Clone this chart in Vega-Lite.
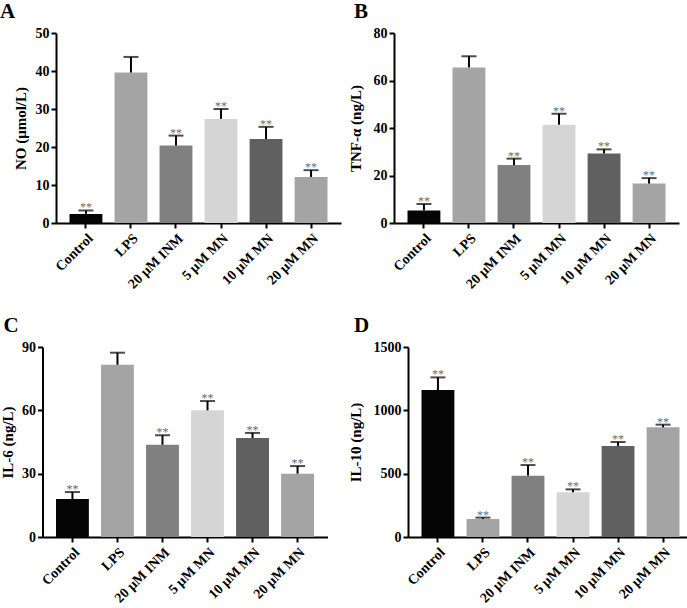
{
  "$schema": "https://vega.github.io/schema/vega-lite/v6.json",
  "padding": {"left": 0, "top": 0, "right": 0, "bottom": 0},
  "background": "white",
  "config": {
    "view": {"stroke": null},
    "font": "Liberation Serif",
    "axis": {
      "labelFont": "Liberation Serif", "labelFontWeight": "bold", "labelFontSize": 14, "labelColor": "black",
      "titleFont": "Liberation Serif", "titleFontWeight": "bold", "titleFontSize": 15, "titleColor": "black",
      "domainColor": "black", "domainWidth": 2, "tickColor": "black", "tickWidth": 2, "tickSize": 5,
      "labelPadding": 2, "grid": false
    },
    "axisX": {"labelAngle": -45, "title": null, "labelPadding": 3},
    "title": {"font": "Liberation Serif", "fontWeight": "bold", "fontSize": 21, "color": "black", "anchor": "start", "frame": "group", "offset": 4.5}
  },
  "data": {"values": [
    {"panel": "A", "group": "Control", "value": 2.4, "upper": 3.3},
    {"panel": "A", "group": "LPS", "value": 39.6, "upper": 43.7},
    {"panel": "A", "group": "20 μM INM", "value": 20.4, "upper": 23.0},
    {"panel": "A", "group": "5 μM MN", "value": 27.4, "upper": 30.0},
    {"panel": "A", "group": "10 μM MN", "value": 22.1, "upper": 25.3},
    {"panel": "A", "group": "20 μM MN", "value": 12.1, "upper": 13.9},
    {"panel": "B", "group": "Control", "value": 5.3, "upper": 8.0},
    {"panel": "B", "group": "LPS", "value": 65.5, "upper": 70.2},
    {"panel": "B", "group": "20 μM INM", "value": 24.4, "upper": 27.1},
    {"panel": "B", "group": "5 μM MN", "value": 41.4, "upper": 46.0},
    {"panel": "B", "group": "10 μM MN", "value": 29.3, "upper": 31.0},
    {"panel": "B", "group": "20 μM MN", "value": 16.6, "upper": 18.9},
    {"panel": "C", "group": "Control", "value": 18.0, "upper": 21.3},
    {"panel": "C", "group": "LPS", "value": 81.6, "upper": 87.3},
    {"panel": "C", "group": "20 μM INM", "value": 43.7, "upper": 48.2},
    {"panel": "C", "group": "5 μM MN", "value": 60.0, "upper": 64.4},
    {"panel": "C", "group": "10 μM MN", "value": 46.9, "upper": 49.3},
    {"panel": "C", "group": "20 μM MN", "value": 30.0, "upper": 33.6},
    {"panel": "D", "group": "Control", "value": 1160, "upper": 1260},
    {"panel": "D", "group": "LPS", "value": 142, "upper": 153},
    {"panel": "D", "group": "20 μM INM", "value": 484, "upper": 568},
    {"panel": "D", "group": "5 μM MN", "value": 353, "upper": 376},
    {"panel": "D", "group": "10 μM MN", "value": 718, "upper": 750},
    {"panel": "D", "group": "20 μM MN", "value": 866, "upper": 887}
  ]},
  "spacing": 22,
  "vconcat": [
    {
      "spacing": 7,
      "hconcat": [
        {
          "title": {"text": "\u00a0\u00a0\u00a0A", "dx": -56},
          "width": 285, "height": 190,
          "transform": [{"filter": "datum.panel === 'A'"}],
          "encoding": {
            "x": {"field": "group", "type": "nominal", "sort": ["Control", "LPS", "20 μM INM", "5 μM MN", "10 μM MN", "20 μM MN"], "scale": {"paddingInner": 0.27, "paddingOuter": 0.3}},
            "y": {"field": "value", "type": "quantitative", "title": "NO (μmol/L)", "scale": {"domain": [0, 50], "nice": false}, "axis": {"values": [0, 10, 20, 30, 40, 50], "format": "d", "titlePadding": 5, "titleX": -28, "titleY": 95}}
          },
          "layer": [
            {"mark": {"type": "bar"}, "encoding": {
              "color": {"field": "group", "type": "nominal", "legend": null, "scale": {"domain": ["Control", "LPS", "20 μM INM", "5 μM MN", "10 μM MN", "20 μM MN"], "range": ["#050505", "#a4a4a4", "#808080", "#d5d5d5", "#606060", "#a4a4a4"]}}}},
            {"mark": {"type": "rule", "strokeWidth": 2, "color": "black"}, "encoding": {"y2": {"field": "upper"}}},
            {"mark": {"type": "tick", "thickness": 2, "size": 15, "color": "black"}, "encoding": {"y": {"field": "upper", "type": "quantitative", "title": "NO (μmol/L)", "axis": {"values": [0, 10, 20, 30, 40, 50], "format": "d", "titlePadding": 5, "titleX": -28, "titleY": 95}}}},
            {"transform": [{"filter": "datum.group !== 'LPS'"}], "mark": {"type": "text", "text": "**", "fontSize": 12, "fill": "#6a6a6a", "baseline": "alphabetic", "dy": 1}, "encoding": {"y": {"field": "upper", "type": "quantitative", "title": "NO (μmol/L)", "axis": {"values": [0, 10, 20, 30, 40, 50], "format": "d", "titlePadding": 5, "titleX": -28, "titleY": 95}}}}
          ]
        },
        {
          "title": {"text": "B", "dx": -40},
          "width": 285, "height": 190,
          "transform": [{"filter": "datum.panel === 'B'"}],
          "encoding": {
            "x": {"field": "group", "type": "nominal", "sort": ["Control", "LPS", "20 μM INM", "5 μM MN", "10 μM MN", "20 μM MN"], "scale": {"paddingInner": 0.27, "paddingOuter": 0.3}},
            "y": {"field": "value", "type": "quantitative", "title": "TNF-α (ng/L)", "scale": {"domain": [0, 80], "nice": false}, "axis": {"values": [0, 20, 40, 60, 80], "format": "d", "titlePadding": 5, "titleX": -31, "titleY": 95}}
          },
          "layer": [
            {"mark": {"type": "bar"}, "encoding": {
              "color": {"field": "group", "type": "nominal", "legend": null, "scale": {"domain": ["Control", "LPS", "20 μM INM", "5 μM MN", "10 μM MN", "20 μM MN"], "range": ["#050505", "#a4a4a4", "#808080", "#d5d5d5", "#606060", "#a4a4a4"]}}}},
            {"mark": {"type": "rule", "strokeWidth": 2, "color": "black"}, "encoding": {"y2": {"field": "upper"}}},
            {"mark": {"type": "tick", "thickness": 2, "size": 15, "color": "black"}, "encoding": {"y": {"field": "upper", "type": "quantitative", "title": "TNF-α (ng/L)", "axis": {"values": [0, 20, 40, 60, 80], "format": "d", "titlePadding": 5, "titleX": -31, "titleY": 95}}}},
            {"transform": [{"filter": "datum.group !== 'LPS'"}], "mark": {"type": "text", "text": "**", "fontSize": 12, "fill": "#6a6a6a", "baseline": "alphabetic", "dy": 1}, "encoding": {"y": {"field": "upper", "type": "quantitative", "title": "TNF-α (ng/L)", "axis": {"values": [0, 20, 40, 60, 80], "format": "d", "titlePadding": 5, "titleX": -31, "titleY": 95}}}}
          ]
        }
      ]
    },
    {
      "spacing": 7,
      "hconcat": [
        {
          "title": {"text": "C", "dx": -52.5},
          "width": 285, "height": 190,
          "transform": [{"filter": "datum.panel === 'C'"}],
          "encoding": {
            "x": {"field": "group", "type": "nominal", "sort": ["Control", "LPS", "20 μM INM", "5 μM MN", "10 μM MN", "20 μM MN"], "scale": {"range": [-13.5, 271.5], "paddingInner": 0.27, "paddingOuter": 0.3}},
            "y": {"field": "value", "type": "quantitative", "title": "IL-6 (ng/L)", "scale": {"domain": [0, 90], "nice": false}, "axis": {"values": [0, 30, 60, 90], "format": "d", "offset": 13.5, "titlePadding": 5, "titleX": -27, "titleY": 95}}
          },
          "layer": [
            {"mark": {"type": "bar"}, "encoding": {
              "color": {"field": "group", "type": "nominal", "legend": null, "scale": {"domain": ["Control", "LPS", "20 μM INM", "5 μM MN", "10 μM MN", "20 μM MN"], "range": ["#050505", "#a4a4a4", "#808080", "#d5d5d5", "#606060", "#a4a4a4"]}}}},
            {"mark": {"type": "rule", "strokeWidth": 2, "color": "black"}, "encoding": {"y2": {"field": "upper"}}},
            {"mark": {"type": "tick", "thickness": 2, "size": 15, "color": "black"}, "encoding": {"y": {"field": "upper", "type": "quantitative", "title": "IL-6 (ng/L)", "axis": {"values": [0, 30, 60, 90], "format": "d", "offset": 13.5, "titlePadding": 5, "titleX": -27, "titleY": 95}}}},
            {"transform": [{"filter": "datum.group !== 'LPS'"}], "mark": {"type": "text", "text": "**", "fontSize": 12, "fill": "#6a6a6a", "baseline": "alphabetic", "dy": 1}, "encoding": {"y": {"field": "upper", "type": "quantitative", "title": "IL-6 (ng/L)", "axis": {"values": [0, 30, 60, 90], "format": "d", "offset": 13.5, "titlePadding": 5, "titleX": -27, "titleY": 95}}}}
          ]
        },
        {
          "title": {"text": "D", "dx": -54},
          "width": 285, "height": 190,
          "transform": [{"filter": "datum.panel === 'D'"}],
          "encoding": {
            "x": {"field": "group", "type": "nominal", "sort": ["Control", "LPS", "20 μM INM", "5 μM MN", "10 μM MN", "20 μM MN"], "scale": {"paddingInner": 0.27, "paddingOuter": 0.3}},
            "y": {"field": "value", "type": "quantitative", "title": "IL-10 (ng/L)", "scale": {"domain": [0, 1500], "nice": false}, "axis": {"values": [0, 500, 1000, 1500], "format": "d", "titlePadding": 5, "titleX": -45, "titleY": 95}}
          },
          "layer": [
            {"mark": {"type": "bar"}, "encoding": {
              "color": {"field": "group", "type": "nominal", "legend": null, "scale": {"domain": ["Control", "LPS", "20 μM INM", "5 μM MN", "10 μM MN", "20 μM MN"], "range": ["#050505", "#a4a4a4", "#808080", "#d5d5d5", "#606060", "#a4a4a4"]}}}},
            {"mark": {"type": "rule", "strokeWidth": 2, "color": "black"}, "encoding": {"y2": {"field": "upper"}}},
            {"mark": {"type": "tick", "thickness": 2, "size": 15, "color": "black"}, "encoding": {"y": {"field": "upper", "type": "quantitative", "title": "IL-10 (ng/L)", "axis": {"values": [0, 500, 1000, 1500], "format": "d", "titlePadding": 5, "titleX": -45, "titleY": 95}}}},
            {"mark": {"type": "text", "text": "**", "fontSize": 12, "fill": "#6a6a6a", "baseline": "alphabetic", "dy": 1}, "encoding": {"y": {"field": "upper", "type": "quantitative", "title": "IL-10 (ng/L)", "axis": {"values": [0, 500, 1000, 1500], "format": "d", "titlePadding": 5, "titleX": -45, "titleY": 95}}}}
          ]
        }
      ]
    }
  ]
}
